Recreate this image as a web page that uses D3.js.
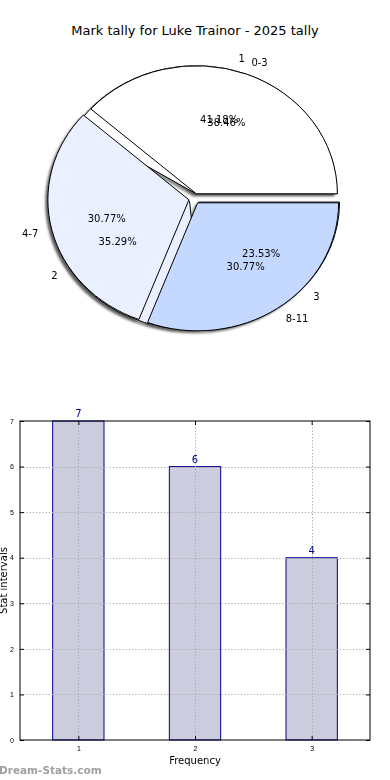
<!DOCTYPE html>
<html lang="en">
<head>
<meta charset="UTF-8">
<title>Mark tally for Luke Trainor - 2025 tally</title>
<style>
  body { margin: 0; background: #fff; }
  svg { display: block; font-family: "DejaVu Sans", sans-serif; }
  .grid line { stroke: #a8a8a8; stroke-dasharray: 1.2,2; }
  .tick-lbl { font-size: 7px; fill: #000; }
</style>
</head>
<body>
<svg width="390" height="780"></svg>
<script src="https://cdn.jsdelivr.net/npm/d3@7"></script>
<script>
// data
const markLabels = ['1', '2', '3'];
const markCounts = [7, 6, 4];
const rangeLabels = ['0-3', '4-7', '8-11'];
const rangeCounts = [5, 4, 4];
const wedgeColors = ['#ffffff', '#eaf0ff', '#c5d8ff'];
const yTicks = [0, 1, 2, 3, 4, 5, 6, 7];

const svg = d3.select('svg');

svg.append('text')
    .attr('x', 195).attr('y', 35)
    .attr('text-anchor', 'middle')
    .attr('font-size', 13)
    .text('Mark tally for Luke Trainor - 2025 tally');

// ---- pie (matplotlib style, stretched to an ellipse) ----
const cx = 194.4, cy = 198.6, rx = 141, ry = 128;
const explode = 0.04;
const defs = svg.append('defs');
defs.append('filter').attr('id', 'blur')
    .attr('x', '-10%').attr('y', '-10%').attr('width', '120%').attr('height', '120%')
    .append('feGaussianBlur').attr('stdDeviation', 1.2);

const arc = d3.arc().innerRadius(0).outerRadius(1);

function wedges(values) {
    const total = d3.sum(values);
    let cum = 0;
    return values.map((v, i) => {
        const t1 = cum / total * 2 * Math.PI;
        cum += v;
        const t2 = cum / total * 2 * Math.PI;
        const tm = (t1 + t2) / 2;
        return { i, v, frac: v / total, t1, t2, tm,
            ox: cx + explode * rx * Math.cos(tm),
            oy: cy - explode * ry * Math.sin(tm) };
    });
}

const pieA = wedges(markCounts);
const pieB = wedges(rangeCounts);
const pieG = svg.append('g');

function pathOf(w) {
    return arc({ startAngle: Math.PI / 2 - w.t1, endAngle: Math.PI / 2 - w.t2 });
}

// shadows behind everything
const shadowG = pieG.append('g').attr('filter', 'url(#blur)');
[pieA, pieB].forEach(p => {
    shadowG.selectAll(null).data(p).enter().append('path')
        .attr('d', pathOf)
        .attr('transform', d => `translate(${d.ox - 0.02 * rx},${d.oy + 0.02 * ry}) scale(${rx},${ry})`)
        .attr('fill', '#333').attr('opacity', 0.55);
});

[pieA, pieB].forEach(p => {
    pieG.append('g').selectAll('path').data(p).enter().append('path')
        .attr('d', pathOf)
        .attr('transform', d => `translate(${d.ox},${d.oy}) scale(${rx},${ry})`)
        .attr('fill', d => wedgeColors[d.i])
        .attr('stroke', '#000').attr('stroke-width', 1)
        .attr('vector-effect', 'non-scaling-stroke');
});

function pieText(p, names) {
    p.forEach(w => {
        const lx = w.ox + 1.1 * rx * Math.cos(w.tm);
        const ly = w.oy - 1.1 * ry * Math.sin(w.tm);
        svg.append('text')
            .attr('x', lx).attr('y', ly).attr('dy', '0.35em')
            .attr('text-anchor', Math.cos(w.tm) > 0 ? 'start' : 'end')
            .attr('font-size', 10)
            .text(names[w.i]);
        svg.append('text')
            .attr('x', w.ox + 0.6 * rx * Math.cos(w.tm))
            .attr('y', w.oy - 0.6 * ry * Math.sin(w.tm)).attr('dy', '0.35em')
            .attr('text-anchor', 'middle')
            .attr('font-size', 10)
            .text((w.frac * 100).toFixed(2) + '%');
    });
}
pieText(pieA, markLabels);
pieText(pieB, rangeLabels);

// ---- bar chart ----
const plotL = 20, plotR = 370, plotT = 421, plotB = 740;
const x = d3.scaleLinear().domain([0.5, 3.5]).range([plotL, plotR]);
const y = d3.scaleLinear().domain([0, 7]).range([plotB, plotT]);
const barW = 0.44;

const bars = svg.append('g');
bars.selectAll('rect').data(markCounts).enter().append('rect')
    .attr('x', (d, i) => x(i + 1 - barW / 2))
    .attr('width', x(1 + barW) - x(1))
    .attr('y', d => y(d))
    .attr('height', d => y(0) - y(d))
    .attr('fill', '#ccccdf')
    .attr('stroke', '#00008b').attr('stroke-width', 1);

const grid = svg.append('g').attr('class', 'grid');
grid.selectAll('.gy').data(yTicks.slice(1, -1)).enter().append('line')
    .attr('x1', plotL).attr('x2', plotR)
    .attr('y1', d => Math.round(y(d)) + 0.5).attr('y2', d => Math.round(y(d)) + 0.5);
grid.selectAll('.gx').data([1, 2, 3]).enter().append('line')
    .attr('y1', plotT).attr('y2', plotB)
    .attr('x1', d => Math.round(x(d)) + 0.5).attr('x2', d => Math.round(x(d)) + 0.5);

// axes with inward ticks (classic style)
const yAxisL = d3.axisLeft(y).tickValues(yTicks).tickFormat(d3.format('d')).tickSizeInner(-4).tickSizeOuter(0).tickPadding(6);
const yAxisR = d3.axisRight(y).tickValues(yTicks).tickSizeInner(-4).tickSizeOuter(0).tickFormat('');
const xAxisB = d3.axisBottom(x).tickValues([1, 2, 3]).tickFormat(d3.format('d')).tickSizeInner(-4).tickSizeOuter(0).tickPadding(6);
const xAxisT = d3.axisTop(x).tickValues([1, 2, 3]).tickSizeInner(-4).tickSizeOuter(0).tickFormat('');

function styleAxis(g) {
    g.select('.domain').remove();
    g.selectAll('line').attr('stroke', '#000');
    g.selectAll('text').attr('class', 'tick-lbl').attr('font-family', null).attr('font-size', null);
}
svg.append('g').attr('transform', `translate(${plotL},0)`).call(yAxisL).call(styleAxis);
svg.append('g').attr('transform', `translate(${plotR},0)`).call(yAxisR).call(styleAxis);
svg.append('g').attr('transform', `translate(0,${plotB})`).call(xAxisB).call(styleAxis);
svg.append('g').attr('transform', `translate(0,${plotT})`).call(xAxisT).call(styleAxis);

svg.append('rect')
    .attr('x', plotL).attr('y', plotT)
    .attr('width', plotR - plotL).attr('height', plotB - plotT)
    .attr('fill', 'none').attr('stroke', '#000').attr('stroke-width', 1);

svg.selectAll('.val').data(markCounts).enter().append('text')
    .attr('x', (d, i) => x(i + 1))
    .attr('y', d => y(d) - 4)
    .attr('text-anchor', 'middle')
    .attr('font-size', 10)
    .attr('fill', '#00008b')
    .text(d => d);

svg.append('text')
    .attr('x', x(2)).attr('y', 764)
    .attr('text-anchor', 'middle')
    .attr('font-size', 10)
    .text('Frequency');

svg.append('text')
    .attr('transform', `translate(7,${(plotT + plotB) / 2}) rotate(-90)`)
    .attr('text-anchor', 'middle')
    .attr('font-size', 10)
    .text('Stat intervals');

svg.append('text')
    .attr('x', -1).attr('y', 774)
    .attr('font-size', 10.5)
    .attr('font-weight', 'bold')
    .attr('fill', '#a0a0a0')
    .text('Dream-Stats.com');
</script>
</body>
</html>
